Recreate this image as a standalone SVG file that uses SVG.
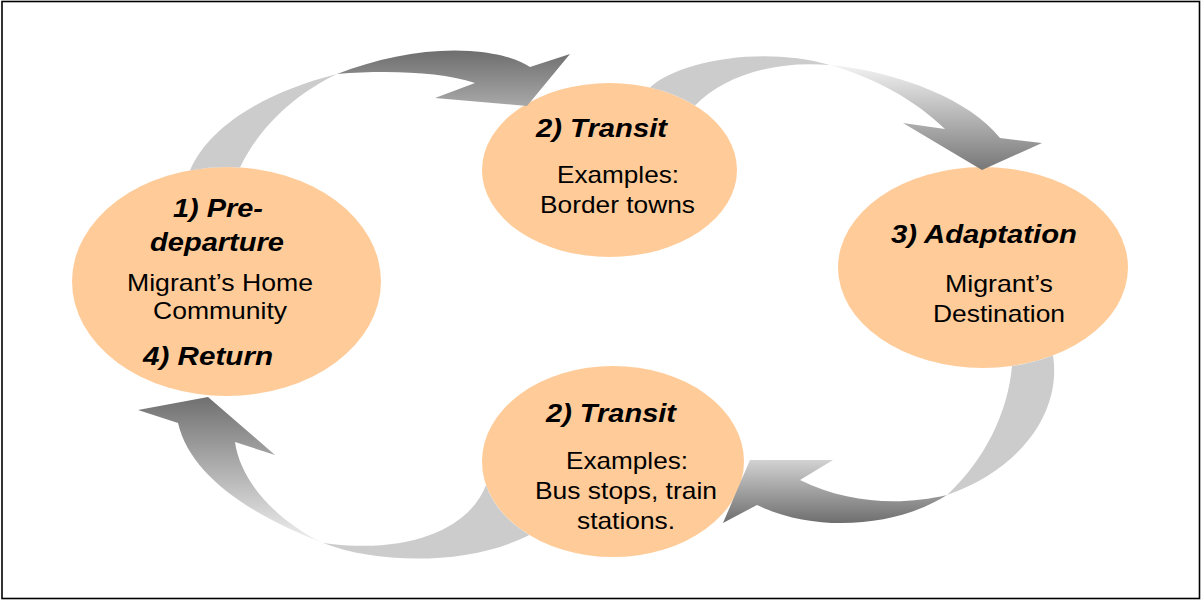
<svg xmlns="http://www.w3.org/2000/svg" width="1201" height="601" viewBox="0 0 1201 601">
  <style>
    .node { fill: #FFCC99; stroke: none; }
    .title { font-family: "Liberation Sans", Arial, sans-serif; font-size: 26px; font-weight: bold; font-style: italic; fill: #000; }
    .body { font-family: "Liberation Sans", Arial, sans-serif; font-size: 24px; fill: #000; }
    .back { fill: #CCCCCC; stroke: none; }
  </style>
  <defs>
    <linearGradient id="g1" x1="0" y1="0" x2="0" y2="1">
      <stop offset="0" stop-color="#6E6E6E"/>
      <stop offset="1" stop-color="#A8A8A8"/>
    </linearGradient>
    <linearGradient id="g2" x1="0" y1="0" x2="0" y2="1">
      <stop offset="0" stop-color="#F2F2F2"/>
      <stop offset="1" stop-color="#777777"/>
    </linearGradient>
    <linearGradient id="g3" x1="0" y1="0" x2="0" y2="1">
      <stop offset="0" stop-color="#D2D2D2"/>
      <stop offset="1" stop-color="#6E6E6E"/>
    </linearGradient>
    <linearGradient id="g4" x1="0" y1="0" x2="0" y2="1">
      <stop offset="0" stop-color="#707070"/>
      <stop offset="1" stop-color="#F0F0F0"/>
    </linearGradient>
  </defs>
  <rect x="2" y="1.5" width="1197.5" height="597" fill="#FFFFFF" stroke="#000000" stroke-width="1.6"/>

  <g id="node-predeparture">
    <ellipse class="node" cx="226.5" cy="281.5" rx="154.5" ry="114.5"/>
    <text class="title" x="173" y="217" textLength="90" lengthAdjust="spacingAndGlyphs">1) Pre-</text>
    <text class="title" x="150" y="251" textLength="134" lengthAdjust="spacingAndGlyphs">departure</text>
    <text class="body" x="127" y="291" textLength="186" lengthAdjust="spacingAndGlyphs">Migrant’s Home</text>
    <text class="body" x="153" y="319" textLength="134" lengthAdjust="spacingAndGlyphs">Community</text>
    <text class="title" x="143" y="365" textLength="130" lengthAdjust="spacingAndGlyphs">4) Return</text>
  </g>

  <g id="node-transit-top">
    <ellipse class="node" cx="609.5" cy="170" rx="127.5" ry="87"/>
    <text class="title" x="536" y="137" textLength="131" lengthAdjust="spacingAndGlyphs">2) Transit</text>
    <text class="body" x="557" y="183" textLength="122" lengthAdjust="spacingAndGlyphs">Examples:</text>
    <text class="body" x="540" y="213" textLength="155" lengthAdjust="spacingAndGlyphs">Border towns</text>
  </g>

  <g id="node-adaptation">
    <ellipse class="node" cx="983" cy="267.5" rx="145" ry="100.5"/>
    <text class="title" x="891" y="243" textLength="186" lengthAdjust="spacingAndGlyphs">3) Adaptation</text>
    <text class="body" x="945" y="292" textLength="108" lengthAdjust="spacingAndGlyphs">Migrant’s</text>
    <text class="body" x="933" y="322" textLength="132" lengthAdjust="spacingAndGlyphs">Destination</text>
  </g>

  <g id="node-transit-bottom">
    <ellipse class="node" cx="613" cy="461.5" rx="131" ry="95.5"/>
    <text class="title" x="546" y="422" textLength="130" lengthAdjust="spacingAndGlyphs">2) Transit</text>
    <text class="body" x="566" y="469" textLength="122" lengthAdjust="spacingAndGlyphs">Examples:</text>
    <text class="body" x="535" y="499" textLength="182" lengthAdjust="spacingAndGlyphs">Bus stops, train</text>
    <text class="body" x="577" y="529" textLength="98" lengthAdjust="spacingAndGlyphs">stations.</text>
  </g>

  <g id="connectors">
    <g id="arrow-1-to-2">
      <path class="back" d="M190,170.5 C208,128 262,93 337,74 C300,92 262,122 240,167.4 A154.5 114.5 0 0 0 190,170.5 Z"/>
      <path fill="url(#g1)" d="M337,74 C380,57 430,48 470,51 C500,53 520,60 530,67 L570,54 L527,106 L435,98 L475,83 C440,72 390,70 337,74 Z"/>
    </g>
    <g id="arrow-2-to-3">
      <path class="back" d="M650,87.5 C677,62 760,45 830,65 C770,60 722,78 695,105.5 A127.5 87 0 0 0 650,87.5 Z"/>
      <path fill="url(#g2)" d="M830,65 C900,72 970,100 1000,138 L1042,143 L982,170 L903,123 L945,129 C915,100 875,78 830,65 Z"/>
    </g>
    <g id="arrow-3-to-4">
      <path class="back" d="M1053,355.5 C1062,412 1020,470 947,495 C985,460 1008,412 1012,366 A145 100.5 0 0 0 1053,355.5 Z"/>
      <path fill="url(#g3)" d="M947,495 C900,525 820,535 757,505 L723,523 L750,460 L833,460 L800,480 C850,505 905,505 947,495 Z"/>
    </g>
    <g id="arrow-4-to-1">
      <path class="back" d="M486,485 C470,528 410,555 323,543 C380,565 470,565 529.4,535 A131 95.5 0 0 1 486,485 Z"/>
      <path fill="url(#g4)" d="M323,543 C250,515 190,475 178,423 L138,410 L208,397 L275,455 L235,442 C240,480 275,520 323,543 Z"/>
    </g>
  </g>
</svg>
